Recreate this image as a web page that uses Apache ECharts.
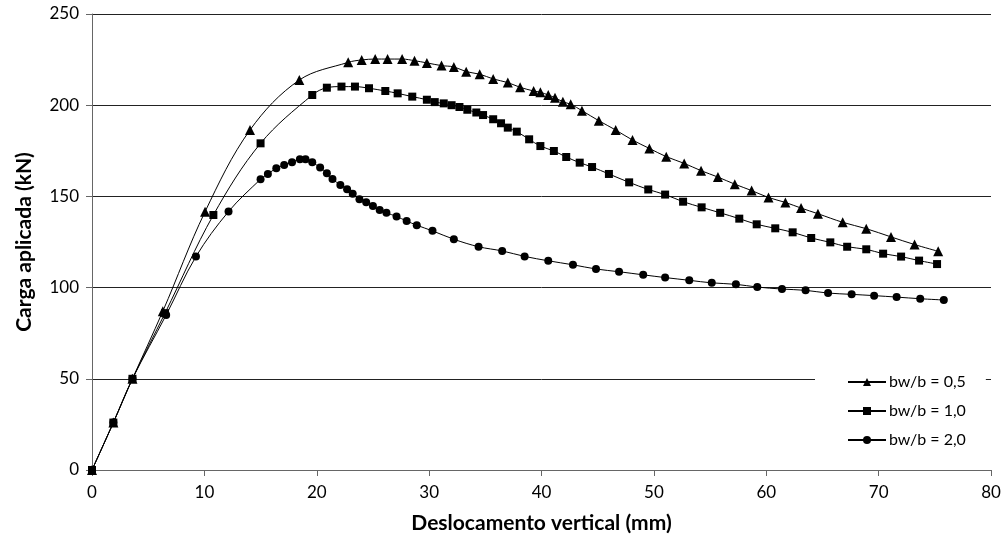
<!DOCTYPE html>
<html>
<head>
<meta charset="utf-8">
<script src="https://cdn.jsdelivr.net/npm/echarts@6/dist/echarts.min.js"></script>
<style>
html,body{margin:0;padding:0;background:#fff;}
#chart{width:1006px;height:558px;}
</style>
</head>
<body>
<div id="chart"></div>
<script>
var seriesNames = ['bw/b = 0,5', 'bw/b = 1,0', 'bw/b = 2,0'];
var xTicks = [0, 10, 20, 30, 40, 50, 60, 70, 80];
var yTicks = [0, 50, 100, 150, 200, 250];

var x05 = [0, 1.9, 3.6, 6.3, 10.06, 14.06, 18.45, 22.8, 24.0, 25.2, 26.3, 27.6, 28.7, 29.8, 31.1, 32.2, 33.3, 34.5, 35.7, 37.0, 38.1, 39.3, 39.9, 40.6, 41.2, 41.9, 42.6, 43.6, 45.1, 46.6, 48.1, 49.6, 51.1, 52.7, 54.2, 55.7, 57.2, 58.7, 60.2, 61.7, 63.1, 64.6, 66.8, 68.9, 71.1, 73.2, 75.3];
var y05 = [0, 26, 50, 87, 141.6, 186.4, 213.8, 223.5, 224.8, 225.3, 225.3, 225.3, 224.4, 223.2, 221.7, 221.0, 218.4, 217.0, 214.4, 212.4, 209.8, 207.8, 207.1, 205.6, 204.1, 201.9, 200.5, 197.0, 191.5, 186.4, 180.9, 176.3, 171.8, 168.1, 164.1, 160.6, 156.7, 153.2, 149.4, 146.7, 143.6, 140.5, 135.8, 132.3, 127.8, 123.6, 119.9];

var x10 = [0, 1.9, 3.6, 6.5, 10.8, 15.0, 19.6, 20.9, 22.2, 23.4, 24.65, 26.1, 27.2, 28.5, 29.8, 30.5, 31.3, 32.0, 32.7, 33.4, 34.2, 34.8, 35.7, 36.4, 37.0, 37.8, 38.9, 39.9, 41.1, 42.2, 43.4, 44.5, 46.0, 47.8, 49.5, 51.0, 52.6, 54.25, 55.9, 57.6, 59.15, 60.8, 62.35, 64.0, 65.7, 67.2, 68.9, 70.4, 72.0, 73.6, 75.2];
var y10 = [0, 26, 50, 86, 139.8, 179.1, 205.6, 209.6, 210.2, 210.2, 209.3, 207.8, 206.5, 204.7, 203.0, 201.7, 201.0, 200.0, 199.0, 197.5, 196.0, 194.6, 192.3, 190.1, 187.7, 185.5, 181.3, 177.6, 174.9, 171.6, 168.5, 166.1, 162.3, 157.7, 153.8, 151.0, 147.1, 144.0, 141.0, 137.8, 134.7, 132.5, 130.3, 127.2, 124.8, 122.4, 121.0, 118.6, 117.0, 114.8, 112.9];

var x20 = [0, 1.9, 3.6, 6.6, 9.25, 12.15, 15.0, 15.65, 16.4, 17.1, 17.8, 18.5, 19.0, 19.6, 20.3, 20.9, 21.4, 22.1, 22.7, 23.2, 23.8, 24.4, 25.0, 25.6, 26.2, 27.1, 28.0, 28.9, 30.3, 32.2, 34.4, 36.5, 38.5, 40.6, 42.8, 44.85, 46.9, 49.05, 51.0, 53.15, 55.15, 57.3, 59.2, 61.4, 63.5, 65.5, 67.6, 69.6, 71.6, 73.7, 75.8];
var y20 = [0, 26, 50, 85, 117, 141.7, 159.4, 162.3, 165.4, 167.2, 168.7, 170.3, 170.3, 168.7, 165.8, 162.7, 159.5, 156.3, 153.9, 151.5, 148.5, 146.8, 144.8, 142.5, 141.0, 139.0, 136.5, 134.2, 131.1, 126.5, 122.4, 120.1, 117.1, 114.7, 112.5, 110.2, 108.7, 107.0, 105.5, 104.0, 102.6, 101.8, 100.3, 99.2, 98.5, 97.0, 96.3, 95.6, 94.8, 93.9, 93.2];

function zip(xs, ys) { return xs.map(function (x, i) { return [x, ys[i]]; }); }

var FONT = 'Lato, "Open Sans", sans-serif';
var chart = echarts.init(document.getElementById('chart'), null, {renderer: 'canvas'});

function mkSeries(name, xs, ys, symbol, size) {
  return {
    name: name,
    type: 'line',
    data: zip(xs, ys),
    smooth: 0.35,
    symbol: symbol,
    symbolSize: size,
    showSymbol: true,
    lineStyle: {color: '#000', width: 1},
    itemStyle: {color: '#000', borderWidth: 0},
    emphasis: {disabled: true},
    animation: false
  };
}

chart.setOption({
  animation: false,
  backgroundColor: '#fff',
  grid: {left: 92, right: 15, top: 14, bottom: 88, containLabel: false},
  xAxis: {
    type: 'value',
    min: xTicks[0], max: xTicks[xTicks.length - 1], interval: 10,
    name: 'Deslocamento vertical (mm)',
    nameLocation: 'middle',
    nameGap: 43,
    nameTextStyle: {fontFamily: FONT, fontWeight: 'bold', fontSize: 21, color: '#000'},
    axisLine: {show: true, lineStyle: {color: '#666', width: 1}},
    axisTick: {show: true, length: 6, lineStyle: {color: '#666'}},
    axisLabel: {fontFamily: FONT, fontSize: 17, color: '#000', margin: 14},
    splitLine: {show: false}
  },
  yAxis: {
    type: 'value',
    min: yTicks[0], max: yTicks[yTicks.length - 1], interval: 50,
    name: 'Carga aplicada (kN)',
    nameLocation: 'middle',
    nameGap: 57,
    nameTextStyle: {fontFamily: FONT, fontWeight: 'bold', fontSize: 21, color: '#000'},
    axisLine: {show: true, lineStyle: {color: '#666', width: 1}},
    axisTick: {show: true, length: 6, lineStyle: {color: '#666'}},
    axisLabel: {fontFamily: FONT, fontSize: 17, color: '#000', margin: 13},
    splitLine: {show: true, lineStyle: {color: '#222', width: 1}}
  },
  legend: {
    orient: 'vertical',
    left: 815,
    top: 366,
    padding: [8, 20, 8, 32],
    backgroundColor: '#fff',
    itemWidth: 38,
    itemHeight: 10,
    itemGap: 13,
    textStyle: {fontFamily: FONT, fontSize: 16, color: '#000', padding: [0, 0, 0, -2]},
    data: seriesNames
  },
  series: [
    mkSeries(seriesNames[0], x05, y05, 'triangle', 10),
    mkSeries(seriesNames[1], x10, y10, 'rect', 8),
    mkSeries(seriesNames[2], x20, y20, 'circle', 8)
  ]
});
</script>
</body>
</html>
